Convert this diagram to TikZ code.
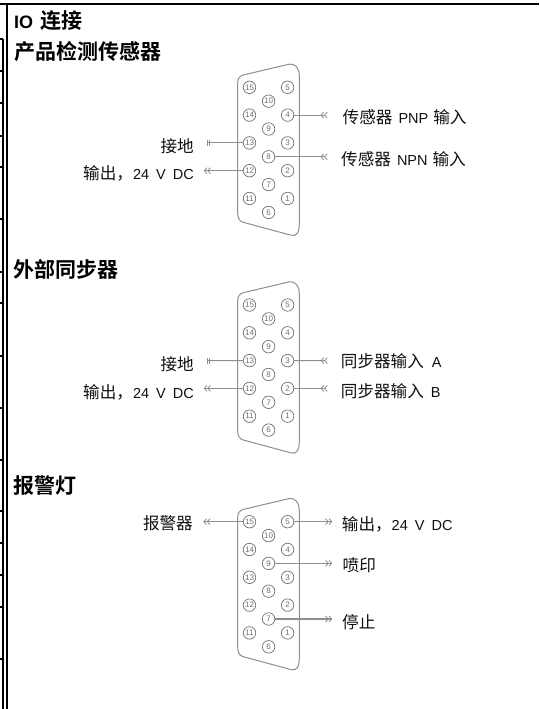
\documentclass[tikz,border=0pt]{standalone}
\usepackage{fontspec}
\usetikzlibrary{arrows.meta}
\setmainfont{Liberation Sans}
\newfontfamily\cjk{Noto Sans CJK SC}
\newfontfamily\cjkb{Noto Sans CJK SC Bold}
\definecolor{pingray}{HTML}{707070}
\definecolor{wiregray}{HTML}{8E8E8E}
\definecolor{txt}{HTML}{101010}
\tikzset{
  rule/.style={line width=2pt,black},
  shell/.style={draw=wiregray,line width=1pt,line join=round},
  pin/.style={circle,draw=pingray,line width=0.7pt,minimum size=12.5pt,inner sep=0pt,text=pingray,font=\fontsize{8}{9}\selectfont},
  wire/.style={draw=wiregray,line width=1.1pt},
  dbl/.style={wire,-{Straight Barb[length=2.6pt,width=6pt,line width=0.8pt]Straight Barb[length=2.6pt,width=6pt,line width=0.8pt,sep=0.3pt]}},
  dblin/.style={wire,-{Straight Barb[reversed,length=2.6pt,width=6pt,line width=0.8pt]Straight Barb[reversed,length=2.6pt,width=6pt,line width=0.8pt,sep=0.3pt]}},
  gnd/.style={wire,-{Bar[width=6pt,line width=0.9pt,sep=1pt]Bar[width=6pt,line width=0.9pt]}},
  heading/.style={anchor=west,inner sep=0pt,text=black,font=\fontsize{21}{23}\selectfont\cjkb},
  lbl/.style={inner sep=0pt,text=txt,font=\fontsize{16.6}{18}\selectfont\cjk},
}
\newcommand{\lat}[1]{{\fontsize{14.5}{16}\selectfont\rmfamily #1}}
\newcommand{\volt}{\lat{24\hspace{3pt} V\hspace{3pt} DC}}
\newcommand{\conn}[2]{%
  \begin{scope}[yshift=-#2pt]
    \draw[shell] (237.7,83) .. controls (237.7,78) and (240,76) .. (243.3,75)
      -- (289,64.2) .. controls (295,63) and (299.3,68) .. (299.3,76)
      -- (299.3,223) .. controls (299.3,232) and (297,237) .. (291,235.2)
      -- (243.3,222.3) .. controls (240,221.3) and (237.7,219) .. (237.7,213) -- cycle;
    \node[pin] (#1-15) at (249.5,87.3) {15};
    \node[pin] (#1-5)  at (287.6,87.3) {5};
    \node[pin] (#1-10) at (268.6,101.2) {10};
    \node[pin] (#1-14) at (249.5,115.1) {14};
    \node[pin] (#1-4)  at (287.6,115.1) {4};
    \node[pin] (#1-9)  at (268.6,129) {9};
    \node[pin] (#1-13) at (249.5,142.9) {13};
    \node[pin] (#1-3)  at (287.6,142.9) {3};
    \node[pin] (#1-8)  at (268.6,156.8) {8};
    \node[pin] (#1-12) at (249.5,170.7) {12};
    \node[pin] (#1-2)  at (287.6,170.7) {2};
    \node[pin] (#1-7)  at (268.6,184.6) {7};
    \node[pin] (#1-11) at (249.5,198.5) {11};
    \node[pin] (#1-1)  at (287.6,198.5) {1};
    \node[pin] (#1-6)  at (268.6,212.4) {6};
  \end{scope}}
\begin{document}
\begin{tikzpicture}[x=1pt,y=-1pt]
\useasboundingbox (0,0) rectangle (539,709);
\fill[white] (0,0) rectangle (539,709);
% page rules
\draw[rule] (0,4) -- (539,4);
\draw[rule] (7.4,4) -- (7.4,709);
\draw[rule] (3.4,39) -- (3.4,709);
\foreach \y in {39,71,103,136,167,219,272,303,356,408,460,511,543,575,607,659}
  \draw[line width=1.6pt,black] (0,\y) -- (3.4,\y);
% headings
\node[heading] (h0) at (14,21) {{\fontsize{18}{20}\selectfont\rmfamily\bfseries IO}\hspace{7pt}连接};
\node[heading] (h1) at (14,52) {产品检测传感器};
\node[heading] (h2) at (13,269) {外部同步器};
\node[heading] (h3) at (13.5,486) {报警灯};
% connectors
\conn{a}{0}
\conn{b}{217.7}
\conn{c}{434.4}
% section 1
\coordinate (a-g) at (207,142.9);
\coordinate (a-o) at (203.5,170.7);
\coordinate (a-p) at (328,115.1);
\coordinate (a-n) at (328,156.8);
\draw[gnd] (a-13) -- (a-g);
\draw[dbl] (a-12) -- (a-o);
\draw[dblin] (a-4) -- (a-p);
\draw[dblin] (a-8) -- (a-n);
\node[lbl,anchor=east] (la1) at (194,146) {接地};
\node[lbl,anchor=east] (la2) at (194,173) {输出，\volt};
\node[lbl,anchor=west] (la3) at (342.5,117.3) {传感器\hspace{6pt}\lat{PNP}\hspace{5pt}输入};
\node[lbl,anchor=west] (la4) at (341,159) {传感器\hspace{6pt}\lat{NPN}\hspace{5pt}输入};
% section 2
\coordinate (b-g) at (207,360.6);
\coordinate (b-o) at (203.5,388.4);
\coordinate (b-a) at (328,360.6);
\coordinate (b-b) at (328,388.4);
\draw[gnd] (b-13) -- (b-g);
\draw[dbl] (b-12) -- (b-o);
\draw[dblin] (b-3) -- (b-a);
\draw[dblin] (b-2) -- (b-b);
\node[lbl,anchor=east] (lb1) at (194,364) {接地};
\node[lbl,anchor=east] (lb2) at (194,392) {输出，\volt};
\node[lbl,anchor=west] (lb3) at (340.7,361) {同步器输入\hspace{8pt}\lat{A}};
\node[lbl,anchor=west] (lb4) at (340.7,391) {同步器输入\hspace{7pt}\lat{B}};
% section 3
\coordinate (c-l) at (203,521.7);
\coordinate (c-r) at (332.5,521.7);
\coordinate (c-s) at (332.5,563.4);
\coordinate (c-t) at (332.5,619);
\draw[dbl] (c-15) -- (c-l);
\draw[dbl] (c-5) -- (c-r);
\draw[dbl] (c-9) -- (c-s);
\draw[dbl] (c-7) -- (c-t);
\node[lbl,anchor=east] (lc1) at (193,523) {报警器};
\node[lbl,anchor=west] (lc2) at (341.7,524) {输出，\volt};
\node[lbl,anchor=west] (lc3) at (342.5,565.7) {喷印};
\node[lbl,anchor=west] (lc4) at (342,622) {停止};
\end{tikzpicture}
\end{document}
